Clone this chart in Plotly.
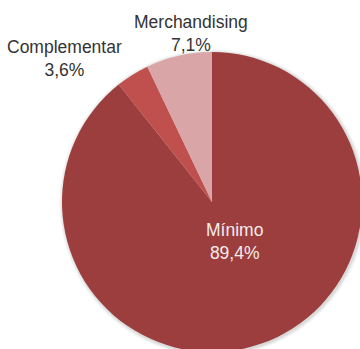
import plotly.graph_objects as go

# Share of each category (percent)
categories = ["Mínimo", "Complementar", "Merchandising"]
shares = [89.4, 3.6, 7.1]
slice_colors = ["#9B3E3D", "#C0504D", "#D9A5A7"]

fig_w, fig_h = 420, 400
cx, cy, r = 212, 202, 150  # pie centre / radius in pixels from the top-left
font_family = "Liberation Sans, Arial, sans-serif"


def px_x(x):
    return x / fig_w


def px_y(y):
    return 1 - y / fig_h


fig = go.Figure()
fig.add_trace(go.Pie(
    labels=categories,
    values=shares,
    sort=False,
    direction="clockwise",
    rotation=0,
    marker=dict(colors=slice_colors, line=dict(width=0)),
    textinfo="none",
    showlegend=False,
    hovertemplate="%{label}: %{value:.1f}%<extra></extra>",
    domain=dict(x=[px_x(cx - r), px_x(cx + r)],
                y=[px_y(cy + r), px_y(cy - r)]),
))

# Soft drop shadow around the pie
for k, op in [(4, 0.04), (3, 0.05), (2, 0.07), (1, 0.09)]:
    fig.add_shape(
        type="circle", xref="paper", yref="paper", layer="below",
        x0=px_x(cx - r - k + 1), x1=px_x(cx + r + k + 1),
        y0=px_y(cy + r + k + 1), y1=px_y(cy - r - k + 1),
        fillcolor=f"rgba(90,90,90,{op})", line=dict(width=0),
    )

# Category labels: the big slice is labelled inside, the small ones outside
label_pos = {"Mínimo": (234, 241), "Complementar": (64, 58), "Merchandising": (191, 34)}
for name, val in zip(categories, shares):
    x, y = label_pos[name]
    inside = name == "Mínimo"
    fig.add_annotation(
        x=px_x(x), y=px_y(y), xref="paper", yref="paper",
        text=f"{name}<br>{val:.1f}%".replace(".", ","),
        showarrow=False, xanchor="center", yanchor="middle",
        font=dict(size=17.5, color="#F7ECEC" if inside else "#333333", family=font_family),
    )

fig.update_layout(
    width=fig_w, height=fig_h,
    margin=dict(l=0, r=0, t=0, b=0),
    paper_bgcolor="white",
    separators=",.",
)

fig.write_html(
    "out.html",
    post_script="document.body.style.margin='0';document.body.style.overflow='hidden';"
                "document.documentElement.style.overflow='hidden';",
)
